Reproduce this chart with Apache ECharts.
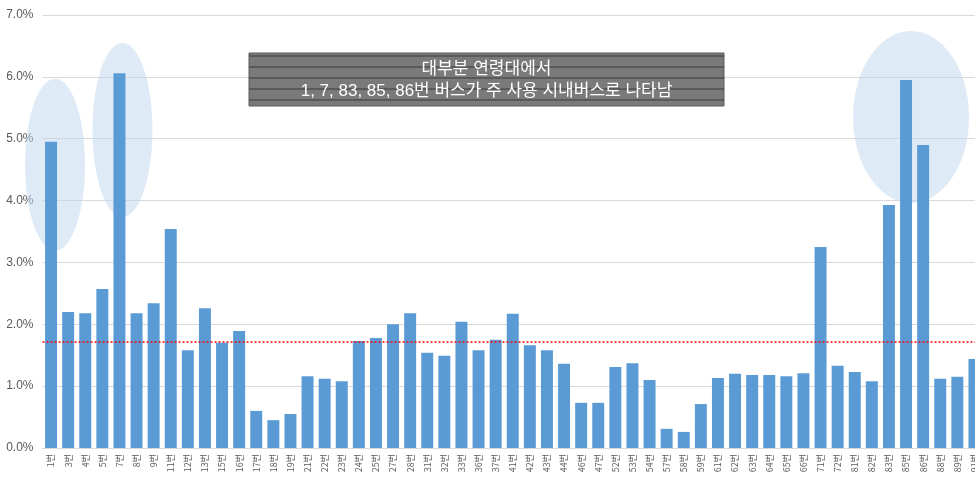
<!DOCTYPE html>
<html>
<head>
<meta charset="utf-8">
<script src="https://cdn.jsdelivr.net/npm/echarts@6/dist/echarts.min.js"></script>
<style>
  html, body { margin: 0; padding: 0; background: #fff; }
  #chart { width: 975px; height: 482px; }
</style>
</head>
<body>
<div id="chart"></div>
<script>
// 노선별 이용 비율
const routes = ["1번","3번","4번","5번","7번","8번","9번","11번","12번","13번","15번","16번","17번","18번","19번",
  "21번","22번","23번","24번","25번","27번","28번","31번","32번","33번","36번","37번","41번","42번","43번",
  "44번","46번","47번","52번","53번","54번","57번","58번","59번","61번","62번","63번","64번","65번","66번",
  "71번","72번","81번","82번","83번","85번","86번","88번","89번","91번"];
const shares = [4.95,2.20,2.18,2.57,6.06,2.18,2.34,3.54,1.58,2.26,1.70,1.89,0.60,0.45,0.55,
  1.16,1.12,1.08,1.73,1.78,2.00,2.18,1.54,1.49,2.04,1.58,1.75,2.17,1.66,1.58,
  1.36,0.73,0.73,1.31,1.37,1.10,0.31,0.26,0.71,1.13,1.20,1.18,1.18,1.16,1.21,
  3.25,1.33,1.23,1.08,3.93,5.95,4.90,1.12,1.15,1.44];
const avgShare = 1.71;
const yTicks = [0, 1, 2, 3, 4, 5, 6, 7];
const noteLines = ["대부분 연령대에서", "1, 7, 83, 85, 86번 버스가 주 사용 시내버스로 나타남"];

const chart = echarts.init(document.getElementById("chart"));

const option = {
  animation: false,
  textStyle: { fontFamily: "'Noto Sans CJK KR', 'Noto Sans', sans-serif" },
  grid: { left: 42.5, right: -8, top: 15, bottom: 34, outerBoundsMode: "none", containLabel: false },
  xAxis: {
    type: "category",
    data: routes,
    axisLine: { lineStyle: { color: "#d9d9d9" } },
    axisTick: { show: false },
    axisLabel: {
      interval: 0,
      rotate: 90,
      fontSize: 9,
      color: "#595959",
      margin: 6
    }
  },
  yAxis: {
    type: "value",
    min: yTicks[0],
    max: yTicks[yTicks.length - 1],
    interval: 1,
    axisLine: { show: false },
    axisTick: { show: false },
    axisLabel: {
      fontSize: 12,
      color: "#595959",
      margin: 9,
      fontFamily: "'Liberation Sans', sans-serif",
      formatter: (v) => v.toFixed(1) + "%"
    },
    splitLine: { lineStyle: { color: "#d9d9d9" } }
  },
  series: [
    {
      type: "bar",
      data: shares,
      barCategoryGap: "30%",
      itemStyle: { color: "#5b9bd5" },
      z: 3,
      markLine: {
        silent: true,
        symbol: "none",
        label: { show: false },
        lineStyle: { color: "#ff0000", type: [2, 2], width: 1.5 },
        data: [{ yAxis: avgShare }],
        z: 5
      }
    }
  ]
};

chart.setOption(option);

// 강조 타원 (막대 위치 기준)
const ellipseAt = (idx, cy, rx, ry, dx) => {
  const c = chart.convertToPixel({ gridIndex: 0 }, [idx, cy]);
  return {
    type: "ellipse",
    z: 1,
    silent: true,
    shape: { cx: c[0] + dx, cy: c[1], rx: rx, ry: ry },
    style: { fill: "rgba(189, 215, 238, 0.5)", stroke: null }
  };
};

const ellipses = [
  ellipseAt(routes.indexOf("1번"), 4.58, 30, 86, 4),
  ellipseAt(routes.indexOf("7번"), 5.14, 30, 87, 3),
  ellipseAt(routes.indexOf("85번"), 5.35, 58, 86, 5)
];

// 안내 상자
const box = { x: 249, y: 53, w: 475, h: 53 };
const stripes = [];
for (let yy = box.y + 3; yy < box.y + box.h; yy += 11) {
  stripes.push({
    type: "line",
    z: 10,
    silent: true,
    shape: { x1: box.x, y1: yy, x2: box.x + box.w, y2: yy },
    style: { stroke: "#3a3a3a", lineWidth: 1 }
  });
}

const noteFont = "17px 'Liberation Sans', 'Noto Sans CJK KR', sans-serif";

chart.setOption({
  graphic: [
    ...ellipses,
    {
      type: "rect",
      z: 9,
      silent: true,
      shape: { x: box.x, y: box.y, width: box.w, height: box.h },
      style: { fill: "#7a7a7a", stroke: "#5a5a5a" }
    },
    ...stripes,
    {
      type: "text",
      z: 11,
      silent: true,
      x: box.x + box.w / 2,
      y: box.y + 16,
      style: { text: noteLines[0], fill: "#ffffff", font: noteFont, align: "center", verticalAlign: "middle" }
    },
    {
      type: "text",
      z: 11,
      silent: true,
      x: box.x + box.w / 2,
      y: box.y + 38,
      style: { text: noteLines[1], fill: "#ffffff", font: noteFont, align: "center", verticalAlign: "middle" }
    }
  ]
});
</script>
</body>
</html>
